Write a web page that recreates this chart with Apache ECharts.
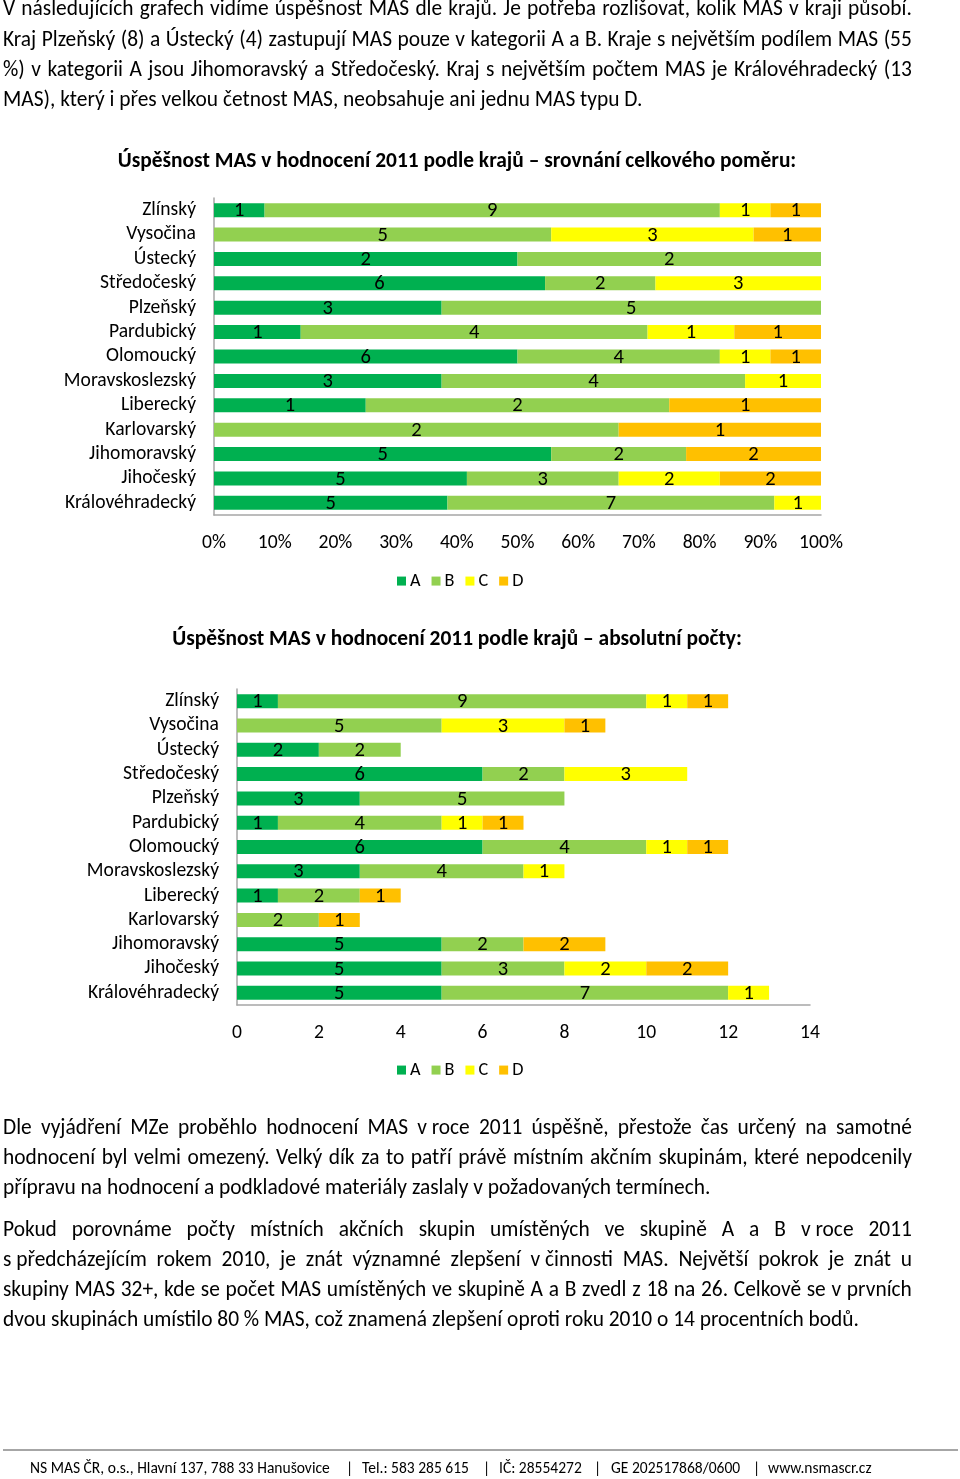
<!DOCTYPE html>
<html lang="cs">
<head>
<meta charset="utf-8">
<title>Úspěšnost MAS v hodnocení 2011 podle krajů</title>
<script src="https://cdn.jsdelivr.net/npm/echarts@6/dist/echarts.min.js"></script>
<style>
html,body{margin:0;padding:0;background:#fff;}
#page{position:relative;width:960px;height:1479px;overflow:hidden;background:#fff;}
#chart{position:absolute;left:0;top:0;width:960px;height:1479px;}
.txt{position:absolute;font-family:Carlito,Calibri,Lato,"Noto Sans",sans-serif;color:#000;white-space:nowrap;}
.ln{left:3px;line-height:30px;}
.just{width:909px;display:flex;justify-content:space-between;}
#rule{position:absolute;left:3px;top:1449px;width:955px;height:2px;background:#a6a6a6;}
</style>
</head>
<body>
<div id="page"><div id="chart"></div><div id="rule"></div></div>
<script>
// ---- data ----
const regions = ['Zlínský','Vysočina','Ústecký','Středočeský','Plzeňský','Pardubický','Olomoucký','Moravskoslezský','Liberecký','Karlovarský','Jihomoravský','Jihočeský','Královéhradecký'];
const countA = [1,0,2,6,3,1,6,3,1,0,5,5,5];
const countB = [9,5,2,2,5,4,4,4,2,2,2,3,7];
const countC = [1,3,0,3,0,1,1,1,0,0,0,2,1];
const countD = [1,1,0,0,0,1,1,0,1,1,2,2,0];
const classes = ['A','B','C','D'];
const chartTitles = ['Úspěšnost MAS v hodnocení 2011 podle krajů – srovnání celkového poměru:','Úspěšnost MAS v hodnocení 2011 podle krajů – absolutní počty:'];
const paragraph1 = [
 'V následujících grafech vidíme úspěšnost MAS dle krajů. Je potřeba rozlišovat, kolik MAS v kraji působí.',
 'Kraj Plzeňský (8) a Ústecký (4) zastupují MAS pouze v kategorii A a B. Kraje s největším podílem MAS (55',
 '%) v kategorii A jsou Jihomoravský a Středočeský. Kraj s největším počtem MAS je Královéhradecký (13',
 'MAS), který i přes velkou četnost MAS, neobsahuje ani jednu MAS typu D.'];
const paragraph2 = [
 'Dle vyjádření MZe proběhlo hodnocení MAS v\u00a0roce 2011 úspěšně, přestože čas určený na samotné',
 'hodnocení byl velmi omezený. Velký dík za to patří právě místním akčním skupinám, které nepodcenily',
 'přípravu na hodnocení a podkladové materiály zaslaly v požadovaných termínech.'];
const paragraph3 = [
 'Pokud porovnáme počty místních akčních skupin umístěných ve skupině A a B v\u00a0roce 2011',
 's\u00a0předcházejícím rokem 2010, je znát významné zlepšení v\u00a0činnosti MAS. Největší pokrok je znát u',
 'skupiny MAS 32+, kde se počet MAS umístěných ve skupině A a B zvedl z 18 na 26. Celkově se v prvních',
 'dvou skupinách umístilo 80 % MAS, což znamená zlepšení oproti roku 2010 o 14 procentních bodů.'];
const footerParts = ['NS MAS ČR, o.s., Hlavní 137, 788 33 Hanušovice','|','Tel.: 583 285 615','|','IČ: 28554272','|','GE 202517868/0600','|','www.nsmascr.cz'];

// ---- styles ----
const FONT = 'Carlito, Calibri, Lato, "Noto Sans", sans-serif';
const classColors = ['#00B050','#92D050','#FFFF00','#FFC000'];
const axisColor = '#a6a6a6';

function measure(text, size, weight){
  const s=document.createElement('span');
  s.style.cssText='position:absolute;visibility:hidden;white-space:nowrap;font-family:'+FONT+';font-size:'+size+'px;font-weight:'+weight;
  s.textContent=text; document.body.appendChild(s);
  const w=s.getBoundingClientRect().width; s.remove(); return w;
}
function fit(text, weight, target){ return 20*target/measure(text,20,weight); }

// ---- paragraphs ----
const page=document.getElementById('page');
const paraSize=(fit(paragraph1[3],400,640)+fit(paragraph2[2],400,708)+fit(paragraph3[3],400,857))/3;
function placePara(lines, centers){
  lines.forEach((t,i)=>{
    const d=document.createElement('div');
    d.className='txt ln'+(i<lines.length-1?' just':'');
    d.style.top=(centers[i]-15)+'px';
    d.style.fontSize=paraSize+'px';
    if(i<lines.length-1){
      t.split(' ').forEach(w=>{const s=document.createElement('span');s.textContent=w;d.appendChild(s);});
    } else d.textContent=t;
    page.appendChild(d);
  });
}
placePara(paragraph1,[8,39,69,99]);
placePara(paragraph2,[1127,1157,1187]);
placePara(paragraph3,[1229,1259,1289,1319]);
const footSize=fit(footerParts[0],400,300);
const footX=[30,346,362,483,499,594,611,753,768];
footerParts.forEach((t,i)=>{
  const d=document.createElement('div');d.className='txt';
  d.style.left=footX[i]+'px';d.style.top=(1469-footSize*0.62)+'px';d.style.fontSize=footSize+'px';d.style.lineHeight='1.2';
  d.textContent=t;page.appendChild(d);
});

// ---- chart ----
const axisSize=fit('Královéhradecký',400,131);
const labelSize=axisSize*1.05;
const t1Size=fit(chartTitles[0],700,679);
const t2Size=fit(chartTitles[1],700,570);
const legendSize=axisSize*0.93;
const counts=[countA,countB,countC,countD];
const totals=regions.map((_,i)=>countA[i]+countB[i]+countC[i]+countD[i]);

function makeSeries(g, percent){
  return classes.map((name,k)=>({
    name, type:'bar', stack:'s'+g, xAxisIndex:g, yAxisIndex:g, barWidth:14,
    itemStyle:{color:classColors[k]},
    label:{show:true,position:'inside',offset:[0,1],color:'#000',fontSize:labelSize,fontFamily:FONT,
      formatter:p=>counts[k][p.dataIndex]?String(counts[k][p.dataIndex]):''},
    data:counts[k].map((v,i)=>percent? v/totals[i]*100 : v)
  }));
}
function yAx(g){return {gridIndex:g,type:'category',data:regions,inverse:true,
  axisLabel:{interval:0,fontSize:axisSize,color:'#000',margin:18,fontFamily:FONT},
  axisTick:{show:false},axisLine:{show:true,lineStyle:{color:axisColor,width:1.5}}};}
function xAx(g,max,interval,fmt){return {gridIndex:g,type:'value',min:0,max,interval,
  axisLabel:{fontSize:axisSize,color:'#000',margin:18,formatter:fmt,fontFamily:FONT},
  axisTick:{show:false},splitLine:{show:false},axisLine:{show:true,lineStyle:{color:axisColor,width:1.5}}};}

const chart=echarts.init(document.getElementById('chart'),null,{renderer:'canvas'});
chart.setOption({
  animation:false,
  textStyle:{fontFamily:FONT},
  title:[
    {text:chartTitles[0],left:457,top:164-t1Size*0.62,textAlign:'center',padding:0,textStyle:{fontSize:t1Size,fontWeight:'bold',color:'#000',fontFamily:FONT}},
    {text:chartTitles[1],left:457,top:642-t2Size*0.62,textAlign:'center',padding:0,textStyle:{fontSize:t2Size,fontWeight:'bold',color:'#000',fontFamily:FONT}}
  ],
  legend:[
    {data:classes,left:397,top:583-legendSize*0.6,padding:0,itemWidth:9,itemHeight:9,itemGap:11,icon:'rect',selectedMode:false,textStyle:{fontSize:legendSize,color:'#000',fontFamily:FONT,padding:[0,0,0,-1]}},
    {data:classes,left:397,top:1072-legendSize*0.6,padding:0,itemWidth:9,itemHeight:9,itemGap:11,icon:'rect',selectedMode:false,textStyle:{fontSize:legendSize,color:'#000',fontFamily:FONT,padding:[0,0,0,-1]}}
  ],
  grid:[
    {left:214,width:607,top:198,height:317,outerBoundsMode:'none',containLabel:false},
    {left:237,width:573,top:689,height:316,outerBoundsMode:'none',containLabel:false}
  ],
  xAxis:[xAx(0,100,10,'{value}%'),xAx(1,14,2,'{value}')],
  yAxis:[yAx(0),yAx(1)],
  series:[...makeSeries(0,true),...makeSeries(1,false)]
});
</script>
</body>
</html>
